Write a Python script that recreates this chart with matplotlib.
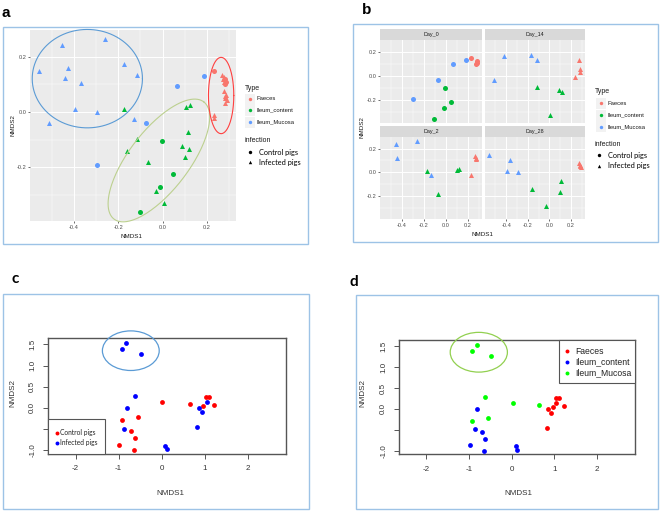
import matplotlib
matplotlib.use('Agg')
import matplotlib.pyplot as plt
import numpy as np
from matplotlib.patches import Rectangle, Ellipse

plt.rcParams['font.family'] = ['Liberation Sans', 'DejaVu Sans']
plt.rcParams['axes.unicode_minus'] = False

#************************************************************************
# DATA
#************************************************************************
# panels a & b: ggplot NMDS (ordered by day, then Faeces / Ileum_content / Ileum_Mucosa)
day_ab = ['Day_0'] * 12 + ['Day_14'] * 12 + ['Day_2'] * 12 + ['Day_28'] * 12
type_ab = (['Faeces'] * 4 + ['Ileum_content'] * 4 + ['Ileum_Mucosa'] * 4) * 4
infection_ab = ['Control pigs'] * 12 + ['Infected pigs'] * 36
nmds1_ab = [0.230, 0.282, 0.287, 0.279, -0.003, 0.046, -0.013, -0.102, 0.188, 0.065, -0.074, -0.295,
            0.278, 0.282, 0.280, 0.233, -0.117, 0.089, 0.119, 0.006, -0.424, -0.173, -0.116, -0.511,
            0.268, 0.272, 0.276, 0.230, -0.174, 0.104, 0.122, -0.066, -0.451, -0.261, -0.439, -0.131,
            0.278, 0.285, 0.280, 0.290, 0.112, -0.159, 0.100, -0.030, -0.556, -0.367, -0.396, -0.295]
nmds2_ab = [0.148, 0.120, 0.108, 0.100, -0.105, -0.223, -0.271, -0.363, 0.131, 0.094, -0.040, -0.193,
            0.127, 0.059, 0.034, -0.011, -0.098, -0.123, -0.135, -0.330, 0.161, 0.173, 0.133, -0.039,
            0.133, 0.120, 0.110, -0.020, 0.013, 0.019, 0.027, -0.182, 0.242, 0.263, 0.123, -0.025,
            0.078, 0.062, 0.050, 0.042, -0.071, -0.142, -0.163, -0.286, 0.149, 0.106, 0.013, 0.001]

# panels c & d: base R NMDS
nmds1_cd = [-0.82, -0.92, -0.48, -0.63, 0.02, 0.65, -0.55, -0.92,
            -0.81, -0.87, -0.70, -0.63, -0.98, -0.65, 0.09, 0.12,
            1.03, 1.11, 0.97, 1.22, 0.86, 0.93, 0.82, 1.05]
nmds2_cd = [1.54, 1.38, 1.27, 0.29, 0.14, 0.10, -0.21, -0.29,
            -0.01, -0.49, -0.55, -0.71, -0.87, -1.00, -0.90, -0.98,
            0.25, 0.25, 0.05, 0.07, -0.01, -0.10, -0.45, 0.13]
type_cd = ['Ileum_Mucosa'] * 8 + ['Ileum_content'] * 8 + ['Faeces'] * 8
infection_cd = ['Infected pigs'] * 4 + ['Control pigs'] * 4 + \
               ['Infected pigs'] * 2 + ['Control pigs'] * 4 + ['Infected pigs'] * 2 + \
               ['Control pigs'] * 4 + ['Infected pigs'] * 4

type_names = ['Faeces', 'Ileum_content', 'Ileum_Mucosa']
inf_names = ['Control pigs', 'Infected pigs']
days = ['Day_0', 'Day_14', 'Day_2', 'Day_28']
gg_cols = ['#F8766D', '#00BA38', '#619CFF']
r_type_cols = ['red', 'blue', '#00FF00']
r_inf_cols = ['red', 'blue']

x_ab = np.array(nmds1_ab); y_ab = np.array(nmds2_ab)
t_ab = np.array(type_ab); i_ab = np.array(infection_ab); d_ab = np.array(day_ab)
x_cd = np.array(nmds1_cd); y_cd = np.array(nmds2_cd)
t_cd = np.array(type_cd); i_cd = np.array(infection_cd)

W, H = 660, 512
FRAME = '#9DC3E6'
CALI = ['Lato', 'DejaVu Sans']

def rect(x0, y0, x1, y1):
    # pixel box (top-left origin) -> figure fraction
    return [x0 / W, 1 - y1 / H, (x1 - x0) / W, (y1 - y0) / H]

def gg_axes(box, show_x, show_y):
    ax = fig.add_axes(rect(*box))
    ax.set_facecolor('#EBEBEB')
    for s in ax.spines.values():
        s.set_visible(False)
    ax.set_xlim(-0.597, 0.330)
    ax.set_ylim(-0.394, 0.297)
    ax.set_xticks([-0.4, -0.2, 0.0, 0.2])
    ax.set_xticklabels(['-0.4', '-0.2', '0.0', '0.2'])
    ax.set_yticks([-0.2, 0.0, 0.2])
    ax.set_yticklabels(['-0.2', '0.0', '0.2'])
    ax.set_xticks([-0.5, -0.3, -0.1, 0.1, 0.3], minor=True)
    ax.set_yticks([-0.3, -0.1, 0.1], minor=True)
    ax.grid(which='major', color='white', lw=0.7)
    ax.grid(which='minor', color='white', lw=0.35)
    ax.set_axisbelow(True)
    ax.tick_params(which='minor', length=0)
    ax.tick_params(which='major', length=1.6, width=0.5, color='#333333',
                   labelsize=4.1, labelcolor='#4D4D4D', pad=1)
    if not show_x:
        ax.tick_params(axis='x', which='major', length=0, labelbottom=False)
    if not show_y:
        ax.tick_params(axis='y', which='major', length=0, labelleft=False)
    return ax

def gg_points(ax, mask):
    for t, col in zip(type_names, gg_cols):
        for inf, mk in zip(inf_names, ['o', '^']):
            m = mask & (t_ab == t) & (i_ab == inf)
            ax.scatter(x_ab[m], y_ab[m], c=col, marker=mk, s=13, linewidths=0, zorder=3)

def conj_ellipse(ax, c, u, v, col, lw=0.8):
    tt = np.linspace(0, 2 * np.pi, 200)
    ex = c[0] + u[0] * np.cos(tt) + v[0] * np.sin(tt)
    ey = c[1] + u[1] * np.cos(tt) + v[1] * np.sin(tt)
    ax.plot(ex, ey, color=col, lw=lw, clip_on=False, zorder=4)

def r_axes(box):
    ax = fig.add_axes(rect(*box))
    ax.set_xlim(-2.64, 2.89)
    ax.set_ylim(-1.08, 1.65)
    ax.set_xticks([-2, -1, 0, 1, 2])
    ax.set_xticklabels(['-2', '-1', '0', '1', '2'])
    ax.set_yticks([-1.0, -0.5, 0.0, 0.5, 1.0, 1.5])
    ax.set_yticklabels(['-1.0', '', '0.0', '0.5', '1.0', '1.5'], rotation=90, va='center')
    for s in ax.spines.values():
        s.set_color('#555555'); s.set_linewidth(1.0)
    ax.tick_params(length=3.5, width=0.7, color='#555555', labelsize=5.8,
                   labelcolor='#333333', pad=5)
    return ax

fig = plt.figure(figsize=(6.6, 5.12), dpi=100)

#************************************************************************
# a
#************************************************************************
axa = gg_axes((30, 30, 236, 221), True, True)
gg_points(axa, np.ones(len(x_ab), bool))
conj_ellipse(axa, (-0.339, 0.121), (0.248, 0.0), (0.0, 0.178), '#5B9BD5')
conj_ellipse(axa, (-0.017, -0.175), (0.202, 0.212), (0.107, -0.066), '#BCD08F')
conj_ellipse(axa, (0.263, 0.060), (0.057, 0.0), (0.0, 0.138), '#FF4040')

#************************************************************************
# b
#************************************************************************
facet_boxes = {'Day_0': (380, 40, 482, 123), 'Day_14': (485, 40, 585, 123),
               'Day_2': (380, 137, 482, 219), 'Day_28': (485, 137, 585, 219)}
for d in days:
    bx = facet_boxes[d]
    axb = gg_axes(bx, d in ['Day_2', 'Day_28'], d in ['Day_0', 'Day_2'])
    gg_points(axb, d_ab == d)

#************************************************************************
# c
#************************************************************************
axc = r_axes((48, 338, 286, 453.5))
for inf, col in zip(inf_names, r_inf_cols):
    m = i_cd == inf
    axc.scatter(x_cd[m], y_cd[m], c=col, s=12, linewidths=0, zorder=3)
axc.add_patch(Ellipse((-0.716, 1.35), 1.32, 0.936, fill=False, ec='#5B9BD5',
                      lw=0.9, clip_on=False, zorder=4))

#************************************************************************
# d
#************************************************************************
axd = r_axes((399, 340, 635, 454))
for t, col in zip(type_names, r_type_cols):
    m = t_cd == t
    axd.scatter(x_cd[m], y_cd[m], c=col, s=12, linewidths=0, zorder=3)
axd.add_patch(Ellipse((-0.77, 1.357), 1.34, 0.952, fill=False, ec='#92D050',
                      lw=0.9, clip_on=False, zorder=4))

#************************************************************************
# overlay: frames, labels, legends (pixel coordinates)
#************************************************************************
ov = fig.add_axes([0, 0, 1, 1], facecolor='none')
ov.set_xlim(0, W); ov.set_ylim(H, 0); ov.axis('off')

for (x0, y0, x1, y1) in [(3, 27, 308, 244), (353, 24, 658, 242), (3, 294, 309, 509), (356, 295, 658, 509)]:
    ov.add_patch(Rectangle((x0, y0), x1 - x0, y1 - y0, fill=False, ec=FRAME, lw=1.0))

ov.text(2, 16.7, 'a', fontsize=11, fontweight='bold')
ov.text(362, 14, 'b', fontsize=11, fontweight='bold')
ov.text(11, 283.3, 'c', fontsize=11, fontweight='bold', family=CALI)
ov.text(350, 286, 'd', fontsize=11, fontweight='bold', family=CALI)

# facet strips
for d in days:
    x0, y0, x1, y1 = facet_boxes[d]
    ov.add_patch(Rectangle((x0, y0 - 11), x1 - x0, 11, fc='#D9D9D9', ec='none'))
    ov.text((x0 + x1) / 2, y0 - 5.3, d, fontsize=3.9, color='#1A1A1A', ha='center', va='center')

# ggplot axis titles
ov.text(131, 236, 'NMDS1', fontsize=4.5, color='#1A1A1A', ha='center', va='center')
ov.text(13.3, 125, 'NMDS2', fontsize=4.5, color='#1A1A1A', ha='center', va='center', rotation=90)
ov.text(482, 235, 'NMDS1', fontsize=4.5, color='#1A1A1A', ha='center', va='center')
ov.text(361.7, 127, 'NMDS2', fontsize=4.5, color='#1A1A1A', ha='center', va='center', rotation=90)

# ggplot legends
def gg_legend(tx, ty, kx, tex, rows_t, ix, iy, ikx, itx, rows_i):
    ov.text(tx, ty, 'Type', fontsize=5, color='#1A1A1A', va='center')
    for yy, t, col in zip(rows_t, type_names, gg_cols):
        ov.add_patch(Rectangle((kx - 5, yy - 5.5), 10, 11, fc='#F2F2F2', ec='none'))
        ov.scatter([kx], [yy], c=col, s=6, linewidths=0)
        ov.text(tex, yy, t, fontsize=4.2, color='#1A1A1A', va='center')
    ov.text(ix, iy, 'infection', fontsize=5, color='#1A1A1A', va='center')
    for yy, inf, mk in zip(rows_i, inf_names, ['o', '^']):
        ov.scatter([ikx], [yy], c='black', marker=mk, s=6, linewidths=0)
        ov.text(itx, yy, inf, fontsize=5.3, color='black', va='center', family=CALI)

gg_legend(245, 88.3, 250, 256.7, [99, 110.3, 122], 244.3, 140.7, 250, 259, [152.3, 162.3])
gg_legend(595, 91.7, 600.7, 607.3, [103.3, 115, 126.7], 594.3, 144.3, 599.3, 607.7, [155.3, 165.7])

# base R axis titles
ov.text(170, 493.3, 'NMDS1', fontsize=5.8, color='#333333', ha='center', va='center')
ov.text(13.3, 393.3, 'NMDS2', fontsize=5.8, color='#333333', ha='center', va='center', rotation=90)
ov.text(518.3, 493.3, 'NMDS1', fontsize=5.8, color='#333333', ha='center', va='center')
ov.text(363.3, 393.3, 'NMDS2', fontsize=5.8, color='#333333', ha='center', va='center', rotation=90)

# legend c
ov.add_patch(Rectangle((48.3, 419), 57, 35, fc='white', ec='#555555', lw=0.8, zorder=2))
for yy, inf, col in zip([432.7, 442.7], inf_names, r_inf_cols):
    ov.scatter([56.7], [yy], c=col, s=8, linewidths=0, zorder=3)
    ov.text(60, yy, inf, fontsize=4.8, color='#222222', va='center', family=CALI, zorder=3)

# legend d
ov.add_patch(Rectangle((559, 340), 76, 43, fc='white', ec='#555555', lw=0.8, zorder=2))
for yy, t, col in zip([351, 362, 373], type_names, r_type_cols):
    ov.scatter([567.3], [yy], c=col, s=8, linewidths=0, zorder=3)
    ov.text(575, yy, t, fontsize=6.2, color='#222222', va='center', zorder=3)

plt.savefig('out.png', dpi=100)
